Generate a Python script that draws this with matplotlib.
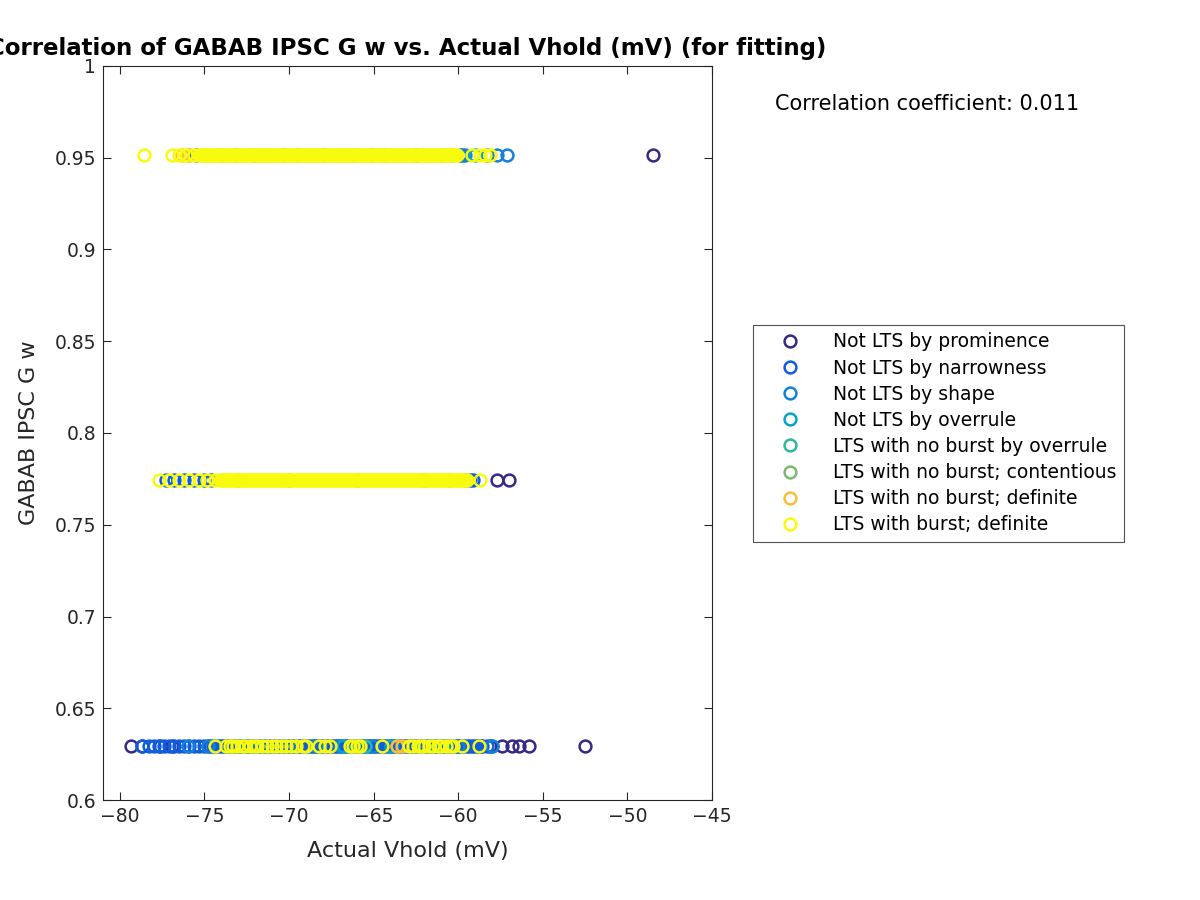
import matplotlib
matplotlib.use("Agg")
import matplotlib.pyplot as plt

# GABAB IPSC G w levels used in the fitting
gw_levels = [0.9515, 0.7744, 0.6294]

labels = ["Not LTS by prominence", "Not LTS by narrowness", "Not LTS by shape",
          "Not LTS by overrule", "LTS with no burst by overrule",
          "LTS with no burst; contentious", "LTS with no burst; definite",
          "LTS with burst; definite"]
colors = ["#352A87", "#0F5CDD", "#1481D6", "#06A4CA", "#2EB7A0", "#7DBA6F",
          "#FABD3B", "#F9FB0E"]

# actual Vhold (mV) of each sweep, per class and per G w level (high, mid, low)
prom_high = [-48.5]
prom_mid = [-57.7, -57.0]
prom_low = [-79.35, -78.7, -77.6, -76.9, -58.8, -58.75, -58.7, -58.65, -58.15,
            -57.4, -56.8, -56.4, -55.8, -52.5]

narrow_high = [-73.2, -69.5, -65.1, -60.4, -59.8]
narrow_mid = [-77.3, -76.8, -76.2, -75.6, -75.0, -74.6, -59.3, -59.1]
narrow_low = [-78.7, -78.3, -78.0, -77.7, -77.4, -77.1, -76.8, -76.5, -76.2, -75.9,
              -75.6, -75.3, -75.0, -74.8, -74.65, -74.5, -74.35, -74.2, -74.05,
              -73.9, -73.75, -73.6, -73.45, -73.3, -73.15, -73.0, -72.85, -72.7,
              -72.55, -72.4, -72.25, -72.1, -71.95, -71.8, -71.65, -71.5, -71.35,
              -71.2, -71.05, -70.9, -70.75, -70.6, -70.45, -70.3, -70.15, -70.0,
              -69.85, -69.7, -69.55, -69.4, -69.25, -69.1, -68.95, -68.8, -68.65,
              -68.5, -68.35, -68.2, -68.05, -67.9, -67.75, -67.6, -67.45, -67.3,
              -67.15, -67.0, -66.85, -66.7, -66.55, -66.4, -66.25, -66.1, -65.95,
              -65.8, -65.65, -65.5, -65.35, -65.2, -65.05, -64.9, -64.75, -64.6,
              -64.45, -64.3, -64.15, -64.0, -63.85, -63.7, -63.55, -63.4, -63.25,
              -63.1, -62.95, -62.8, -62.65, -62.5, -62.35, -62.2, -62.05, -61.9,
              -61.75, -61.6, -61.45, -61.3, -61.15, -61.0, -60.85, -60.7, -60.55,
              -60.4, -60.25, -60.1, -59.95, -59.8, -59.65, -59.5, -59.35, -59.2,
              -59.05, -58.9, -58.6, -58.3, -58.0]

shape_high = [-75.5, -74.0, -72.1, -70.3, -68.0, -66.2, -64.4, -62.5, -61.0,
              -59.9, -59.6, -58.3, -57.7, -57.1]
shape_mid = [-73.0, -70.0, -66.0, -62.0, -59.6]
shape_low = [-76.0, -74.8, -72.5, -70.0, -68.4, -67.0, -65.1, -63.9, -61.8,
             -60.0, -58.0]

overrule_high = [-59.0]
overrule_mid = [-60.5]
overrule_low = [-71.5, -66.8, -64.0, -60.9]

nb_overrule_high = []
nb_overrule_mid = []
nb_overrule_low = [-65.5]

contentious_high = [-75.9]
contentious_mid = []
contentious_low = [-63.6]

nb_definite_high = [-76.3, -76.0]
nb_definite_mid = []
nb_definite_low = [-63.6, -63.3]

burst_high = [-78.58, -76.92, -76.5, -76.1, -75.6, -75.3, -75.2, -75.1, -75.0,
              -74.9, -74.8, -74.7, -74.6, -74.5, -74.4, -74.3, -74.2, -74.1, -74.0,
              -73.9, -73.8, -73.7, -73.6, -73.5, -73.4, -73.3, -73.2, -73.1, -73.0,
              -72.9, -72.8, -72.7, -72.6, -72.5, -72.4, -72.3, -72.2, -72.1, -72.0,
              -71.9, -71.8, -71.7, -71.6, -71.5, -71.4, -71.3, -71.2, -71.1, -71.0,
              -70.9, -70.8, -70.7, -70.6, -70.5, -70.4, -70.3, -70.2, -70.1, -70.0,
              -69.9, -69.8, -69.7, -69.6, -69.5, -69.4, -69.3, -69.2, -69.1, -69.0,
              -68.9, -68.8, -68.7, -68.6, -68.5, -68.4, -68.3, -68.2, -68.1, -68.0,
              -67.9, -67.8, -67.7, -67.6, -67.5, -67.4, -67.3, -67.2, -67.1, -67.0,
              -66.9, -66.8, -66.7, -66.6, -66.5, -66.4, -66.3, -66.2, -66.1, -66.0,
              -65.9, -65.8, -65.7, -65.6, -65.5, -65.4, -65.3, -65.2, -65.1, -65.0,
              -64.9, -64.8, -64.7, -64.6, -64.5, -64.4, -64.3, -64.2, -64.1, -64.0,
              -63.9, -63.8, -63.7, -63.6, -63.5, -63.4, -63.3, -63.2, -63.1, -63.0,
              -62.9, -62.8, -62.7, -62.6, -62.5, -62.4, -62.3, -62.2, -62.1, -62.0,
              -61.9, -61.8, -61.7, -61.6, -61.5, -61.4, -61.3, -61.2, -61.1, -61.0,
              -60.9, -60.8, -60.7, -60.6, -60.5, -60.4, -60.3, -60.2, -60.1, -59.2,
              -58.7, -58.4, -58.1]
burst_mid = [-77.7, -77.1, -76.5, -75.9, -75.3, -74.85, -74.4, -74.1, -74.0, -73.9,
             -73.8, -73.7, -73.6, -73.5, -73.4, -73.3, -73.2, -73.1, -73.0, -72.9,
             -72.8, -72.7, -72.6, -72.5, -72.4, -72.3, -72.2, -72.1, -72.0, -71.9,
             -71.8, -71.7, -71.6, -71.5, -71.4, -71.3, -71.2, -71.1, -71.0, -70.9,
             -70.8, -70.7, -70.6, -70.5, -70.4, -70.3, -70.2, -70.1, -70.0, -69.9,
             -69.8, -69.7, -69.6, -69.5, -69.4, -69.3, -69.2, -69.1, -69.0, -68.9,
             -68.8, -68.7, -68.6, -68.5, -68.4, -68.3, -68.2, -68.1, -68.0, -67.9,
             -67.8, -67.7, -67.6, -67.5, -67.4, -67.3, -67.2, -67.1, -67.0, -66.9,
             -66.8, -66.7, -66.6, -66.5, -66.4, -66.3, -66.2, -66.1, -66.0, -65.9,
             -65.8, -65.7, -65.6, -65.5, -65.4, -65.3, -65.2, -65.1, -65.0, -64.9,
             -64.8, -64.7, -64.6, -64.5, -64.4, -64.3, -64.2, -64.1, -64.0, -63.9,
             -63.8, -63.7, -63.6, -63.5, -63.4, -63.3, -63.2, -63.1, -63.0, -62.9,
             -62.8, -62.7, -62.6, -62.5, -62.4, -62.3, -62.2, -62.1, -62.0, -61.9,
             -61.8, -61.7, -61.6, -61.5, -61.4, -61.3, -61.2, -61.1, -61.0, -60.9,
             -60.8, -60.7, -60.6, -60.5, -60.4, -60.3, -60.2, -60.1, -60.0, -59.9,
             -59.8, -59.7, -59.6, -59.5, -58.7]
burst_low = [-74.4, -73.7, -73.5, -73.3, -73.1, -72.8, -72.6, -72.3, -72.1, -71.9,
             -71.6, -71.3, -71.0, -70.8, -70.5, -70.2, -69.9, -69.6, -69.2, -69.0,
             -68.2, -67.9, -67.6, -66.4, -66.2, -66.0, -65.8, -64.5, -62.9, -62.7,
             -62.4, -62.2, -62.0, -61.7, -61.5, -61.2, -61.0, -60.7, -60.5, -60.3,
             -59.75, -58.75]

groups = [
    (prom_high, prom_mid, prom_low),
    (narrow_high, narrow_mid, narrow_low),
    (shape_high, shape_mid, shape_low),
    (overrule_high, overrule_mid, overrule_low),
    (nb_overrule_high, nb_overrule_mid, nb_overrule_low),
    (contentious_high, contentious_mid, contentious_low),
    (nb_definite_high, nb_definite_mid, nb_definite_low),
    (burst_high, burst_mid, burst_low),
]

text_col = "#262626"
plt.rcParams["font.family"] = "DejaVu Sans"

fig = plt.figure(figsize=(12, 9), dpi=100)
ax = fig.add_axes([0.0858, 0.1111, 0.5075, 0.8156])

for k in range(len(groups)):
    xs = []
    ys = []
    for rows, level in zip(groups[k], gw_levels):
        xs += rows
        ys += [level] * len(rows)
    ax.plot(xs, ys, linestyle="none", marker="o", markersize=8.5,
            markerfacecolor="none", markeredgecolor=colors[k],
            markeredgewidth=1.8, label=labels[k])

ax.set_xlim(-81, -45)
ax.set_ylim(0.6, 1)
ax.set_xticks([-80, -75, -70, -65, -60, -55, -50, -45])
ax.set_yticks([0.6, 0.65, 0.7, 0.75, 0.8, 0.85, 0.9, 0.95, 1])
ax.set_yticklabels(["0.6", "0.65", "0.7", "0.75", "0.8", "0.85", "0.9", "0.95", "1"])
ax.tick_params(direction="in", top=True, right=True, length=6, width=0.8,
               labelsize=13.5, colors=text_col, pad=5)
for s in ax.spines.values():
    s.set_color(text_col)
    s.set_linewidth(0.8)

ax.set_xlabel("Actual Vhold (mV)", fontsize=16, color=text_col, labelpad=11)
ax.set_ylabel("GABAB IPSC G w", fontsize=16, color=text_col, labelpad=11)
ax.set_title("Correlation of GABAB IPSC G w vs. Actual Vhold (mV) (for fitting)",
             fontsize=16.5, fontweight="bold", pad=8)

fig.text(0.6458, 0.8844, "Correlation coefficient: 0.011", fontsize=15,
         va="center", ha="left")

leg = ax.legend(loc="upper left", bbox_to_anchor=(0.6275, 0.6389),
                bbox_transform=fig.transFigure, fontsize=13.5, frameon=True,
                fancybox=False, edgecolor=text_col, borderpad=0.4,
                handlelength=3.15, labelspacing=0.38, handletextpad=0.72,
                borderaxespad=0)
leg.get_frame().set_linewidth(0.8)

fig.savefig("out.png", dpi=100)
